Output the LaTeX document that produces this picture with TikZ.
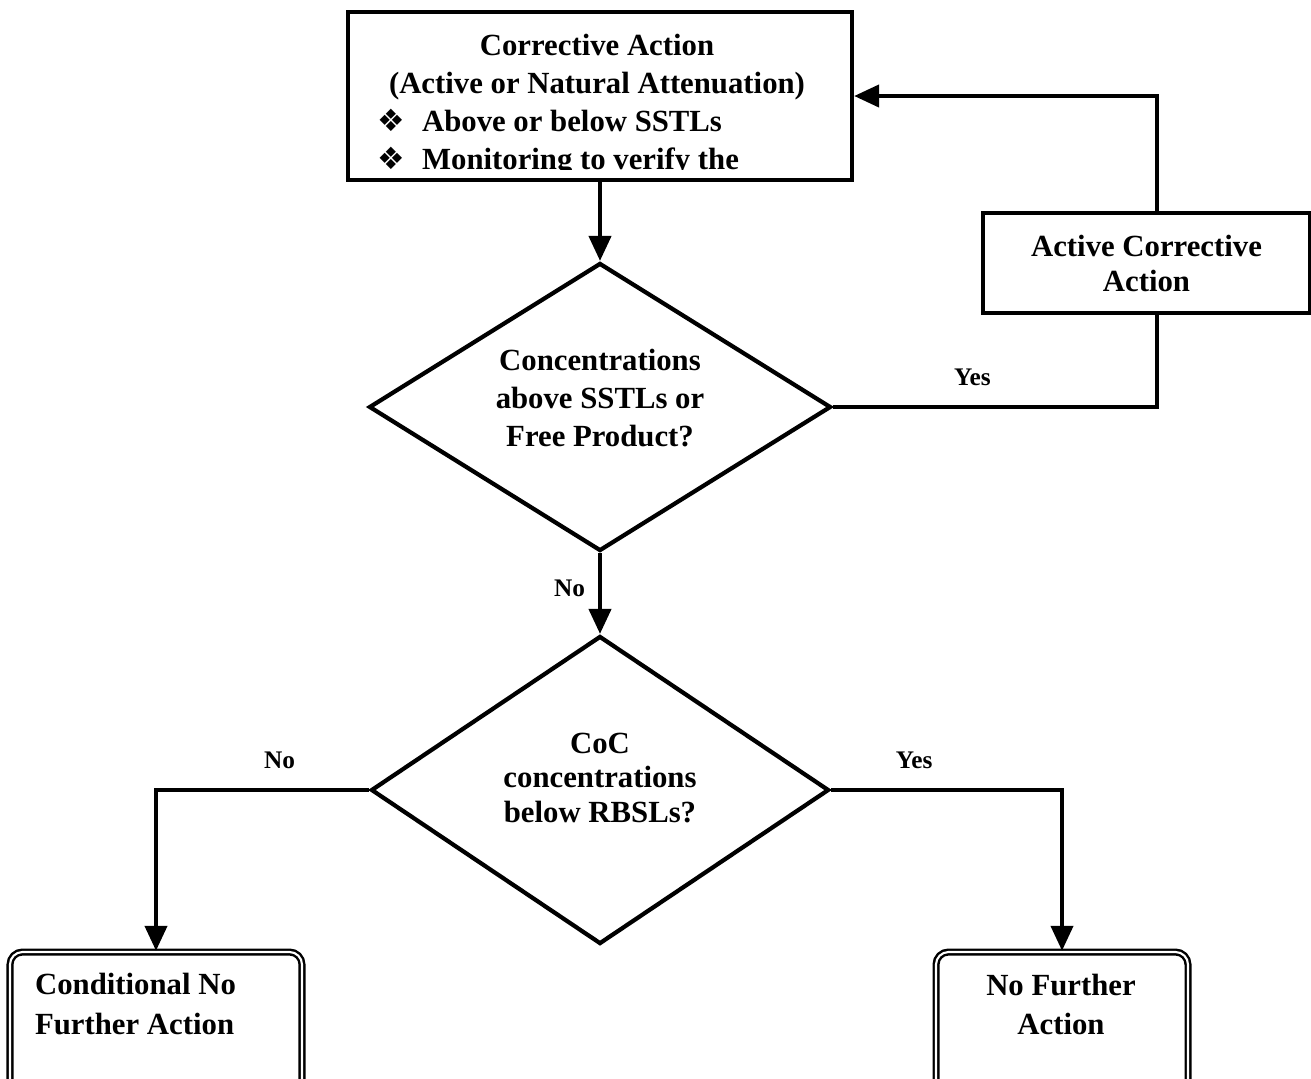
\documentclass[tikz,border=0pt]{standalone}
\usepackage{fontspec}
\setmainfont{Liberation Serif}
\newfontfamily\symfont{DejaVu Sans}
\usetikzlibrary{positioning, shapes.geometric, arrows.meta}
\tikzset{every picture/.style={line width=2.4pt}}
\newcommand{\listbullet}{\makebox[0.9cm][l]{\symfont\char"2756}}

\begin{document}
\begin{tikzpicture}
    [rect/.style = {rectangle, draw, align=center,
            font=\bfseries\fontsize{17.5}{21.6}\selectfont},
    -{Triangle[length=0.5cm, width=0.44cm]},
    txt/.style = {align=center, inner sep=0pt,
            font=\bfseries\fontsize{17.5}{#1}\selectfont},
    txt/.default = 21.6pt,
    dec/.style = {diamond, draw, inner sep=0pt, aspect=1.6},
    endbox/.style = {rectangle, draw, double, double distance=1.2pt,
            line width=1.4pt, rounded corners=0.25cm},
    lbl/.style = {font=\bfseries\fontsize{14.4}{16}\selectfont},
    ]
    \useasboundingbox (0, 0) rectangle (26.22, -21.56);

    \node[rect, minimum width=10.08cm, minimum height=3.36cm] (ca) at (12.0, -1.92) {};
    \begin{scope}
        \clip ([xshift=0.05cm, yshift=0.25cm]ca.south west) rectangle ([xshift=-0.05cm, yshift=-0.05cm]ca.north east);
        \node[txt] (ca-title) at (11.94, -1.34) {Corrective Action\\(Active or Natural Attenuation)};
        \node[txt, align=left, anchor=west] (ca-list) at (7.5, -2.86) {\listbullet Above or below SSTLs\\\listbullet Monitoring to verify the};
    \end{scope}

    \node[dec, minimum width=9.24cm, minimum height=5.76cm] (q1) at (12.0, -8.14) {};
    \node[txt] (q1-text) at (12.0, -7.96) {Concentrations\\above SSTLs or\\Free Product?};

    \node[rect, minimum width=6.54cm, minimum height=2cm,
        font=\bfseries\fontsize{17.5}{19.9}\selectfont] (aca) at (22.93, -5.26) {Active Corrective\\Action};

    \node[dec, minimum width=9.16cm, minimum height=6.16cm] (q2) at (12.0, -15.8) {};
    \node[txt=19.4pt] (q2-text) at (12.0, -15.56) {CoC\\concentrations\\below RBSLs?};

    \node[endbox, minimum width=5.84cm, minimum height=2.8cm] (cnfa) at (3.12, -20.44) {};
    \node[txt=22.2pt, align=left, anchor=west] (cnfa-text) at (0.66, -20.08) {Conditional No\\Further Action};

    \node[endbox, minimum width=5.04cm, minimum height=2.8cm] (nfa) at (21.24, -20.44) {};
    \node[txt=22.2pt] (nfa-text) at (21.22, -20.08) {No Further\\Action};

    \draw (ca.south) -- (q1.north);
    \draw[-] (q1.east) -| ([xshift=0.21cm]aca.south) node[lbl, pos=0.215, above=0.26cm] (q1-yes) {Yes};
    \draw ([xshift=0.21cm]aca.north) |- (ca.east);
    \draw (q1.south) -- (q2.north) node[lbl, pos=0.43, left=0.14cm] (q1-no) {No};
    \draw (q2.west) -| (cnfa.north) node[lbl, pos=0.21, above=0.26cm] (q2-no) {No};
    \draw (q2.east) -| (nfa.north) node[lbl, pos=0.18, above=0.26cm] (q2-yes) {Yes};
\end{tikzpicture}
\end{document}
